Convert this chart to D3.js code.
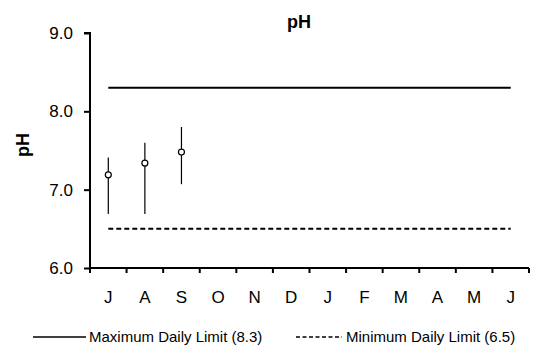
<!DOCTYPE html>
<html><head><meta charset="utf-8">
<script src="https://cdn.jsdelivr.net/npm/d3@7"></script>
<style>body{margin:0;background:#fff}svg{display:block}text{font-family:"Liberation Sans",Arial,sans-serif}</style>
</head><body><svg id="c" width="533" height="345"></svg>
<script>
const months = ["J","A","S","O","N","D","J","F","M","A","M","J"];
const meanPH = [7.19, 7.34, 7.48];
const minPH = [6.69, 6.69, 7.07];
const maxPH = [7.41, 7.60, 7.80];
const maxLimit = 8.3;
const minLimit = 6.5;
const yTicks = [6.0, 7.0, 8.0, 9.0];

const svg = d3.select("#c");
const m = {l:90};
const x = d3.scaleBand().domain(d3.range(12)).range([m.l, 529]);
const y = d3.scaleLinear().domain([6, 9]).range([268, 33]);

// axes
const ya = svg.append("g").attr("transform",`translate(${m.l},0)`)
  .call(d3.axisLeft(y).tickValues(yTicks).tickFormat(d3.format(".1f")).tickSize(6).tickPadding(11));
ya.select(".domain").attr("stroke","#000").attr("stroke-width",2).attr("d",`M-6,${y(9)}H0V${y(6)}`);
ya.selectAll(".tick line").attr("stroke-width",2);
ya.selectAll("text").attr("font-size",17).attr("fill","#000").attr("font-family","Liberation Sans, Arial, sans-serif");

const xa = svg.append("g").attr("transform",`translate(0,268)`)
  .call(d3.axisBottom(x).tickValues([]).tickSize(0));
xa.select(".domain").attr("stroke","#000").attr("stroke-width",2).attr("d",`M${m.l},0H529`);
svg.append("g").selectAll("line").data(d3.range(13)).join("line")
  .attr("x1", i => i < 12 ? x(i) : x(11)+x.bandwidth())
  .attr("x2", i => i < 12 ? x(i) : x(11)+x.bandwidth())
  .attr("y1", 268).attr("y2", 273).attr("stroke","#000").attr("stroke-width",2);
svg.append("g").selectAll("text").data(months).join("text")
  .attr("x", (d,i) => x(i)+x.bandwidth()/2).attr("y", 303)
  .attr("text-anchor","middle").attr("font-size",17).text(d => d);

// limits
const xs = x(0)+x.bandwidth()/2, xe = x(11)+x.bandwidth()/2;
svg.append("line").attr("x1",xs).attr("x2",xe).attr("y1",y(maxLimit)).attr("y2",y(maxLimit))
  .attr("stroke","#000").attr("stroke-width",2);
svg.append("line").attr("x1",xs).attr("x2",xe).attr("y1",y(minLimit)).attr("y2",y(minLimit))
  .attr("stroke","#000").attr("stroke-width",2).attr("stroke-dasharray","5,3");

// error bars & points
const g = svg.append("g");
g.selectAll("line").data(meanPH).join("line")
  .attr("x1",(d,i)=>x(i)+x.bandwidth()/2).attr("x2",(d,i)=>x(i)+x.bandwidth()/2)
  .attr("y1",(d,i)=>y(maxPH[i])).attr("y2",(d,i)=>y(minPH[i]))
  .attr("stroke","#000").attr("stroke-width",1.2);
g.selectAll("circle").data(meanPH).join("circle")
  .attr("cx",(d,i)=>x(i)+x.bandwidth()/2).attr("cy",d=>y(d)).attr("r",3)
  .attr("fill","#fff").attr("stroke","#000").attr("stroke-width",1.2);

// titles
svg.append("text").attr("x",299).attr("y",28).attr("text-anchor","middle")
  .attr("font-size",18).attr("font-weight","bold").text("pH");
svg.append("text").attr("transform","translate(29,145) rotate(-90)").attr("text-anchor","middle")
  .attr("font-size",18).attr("font-weight","bold").text("pH");

// legend
const lg = svg.append("g");
lg.append("line").attr("x1",33).attr("x2",86).attr("y1",337).attr("y2",337).attr("stroke","#000").attr("stroke-width",1.5);
lg.append("text").attr("x",89).attr("y",342).attr("font-size",15).text("Maximum Daily Limit (8.3)");
lg.append("line").attr("x1",296).attr("x2",342).attr("y1",337).attr("y2",337).attr("stroke","#000").attr("stroke-width",1.5).attr("stroke-dasharray","4,2.5");
lg.append("text").attr("x",346).attr("y",342).attr("font-size",15).text("Minimum Daily Limit (6.5)");
</script></body></html>
